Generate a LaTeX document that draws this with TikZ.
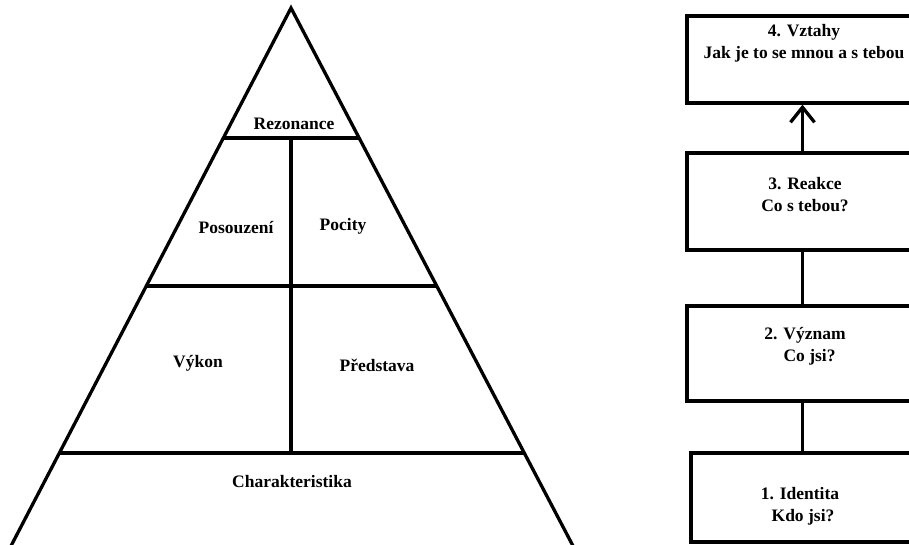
\documentclass[tikz,border=0pt]{standalone}
\usepackage{fontspec}
\setmainfont{Liberation Serif}
\usetikzlibrary{arrows.meta,calc}
\begin{document}
\begin{tikzpicture}[x=1pt,y=-1pt,
  ln/.style={line width=3.3pt, line cap=butt},
  lbl/.style={font=\bfseries\fontsize{17.5}{22}\selectfont, inner sep=0pt, align=center},
  box/.style={draw, line width=3.3pt, inner sep=0pt, minimum width=234pt}]
\useasboundingbox (0,0) rectangle (909,544);
\clip (0,0) rectangle (909,544);
\fill[white] (0,0) rectangle (909,544);
% pyramid
\coordinate (apex) at (291,8);
\coordinate (bl) at (12,544);
\coordinate (br) at (572,544);
\draw[ln, line join=miter] ($(apex)!1.02!(bl)$) -- (apex) -- ($(apex)!1.02!(br)$);
\coordinate (l1) at ($(apex)!0.2425!(bl)$);
\coordinate (r1) at ($(apex)!0.2425!(br)$);
\coordinate (l2) at ($(apex)!0.5187!(bl)$);
\coordinate (r2) at ($(apex)!0.5187!(br)$);
\coordinate (l3) at ($(apex)!0.8302!(bl)$);
\coordinate (r3) at ($(apex)!0.8302!(br)$);
\draw[ln] (l1) -- (r1);
\draw[ln] (l2) -- (r2);
\draw[ln] (l3) -- (r3);
\coordinate (vt) at (291,138);
\coordinate (vb) at (291,453);
\draw[ln] (vt) -- (vb);
\node[lbl] (rez) at (294,124) {Rezonance};
\node[lbl] (pos) at (236,228) {Posouzení};
\node[lbl] (poc) at (343,226) {Pocity};
\node[lbl] (vyk) at (198,363) {Výkon};
\node[lbl] (pre) at (377,365) {Představa};
\node[lbl] (cha) at (292,482) {Charakteristika};
% boxes
\node[box, minimum height=87pt] (b4) at (804,59.5) {};
\node[box, minimum height=97pt] (b3) at (804,201.5) {};
\node[box, minimum height=95pt] (b2) at (804,353.5) {};
\node[box, minimum height=89pt, minimum width=226pt] (b1) at (804,497.5) {};
\node[lbl] (t4) at (804,43) {4. Vztahy\\Jak je to se mnou a s tebou};
\node[lbl] (t3) at (805,195) {3. Reakce\\Co s tebou?};
\node[lbl] (t2) at (805,346) {2. Význam\\\hspace*{9pt}Co jsi?};
\node[lbl] (t1) at (800,506) {1. Identita\\\hspace*{6pt}Kdo jsi?};
% connectors
\draw[ln] ([xshift=-1.5pt]b1.north) -- ([xshift=-1.5pt]b2.south);
\draw[ln] ([xshift=-1.5pt]b2.north) -- ([xshift=-1.5pt]b3.south);
\draw[ln, -{Straight Barb[length=15pt,width=24pt,line width=3.3pt]}] ([xshift=-1.5pt]b3.north) -- ([xshift=-1.5pt]b4.south);
\end{tikzpicture}
\end{document}
